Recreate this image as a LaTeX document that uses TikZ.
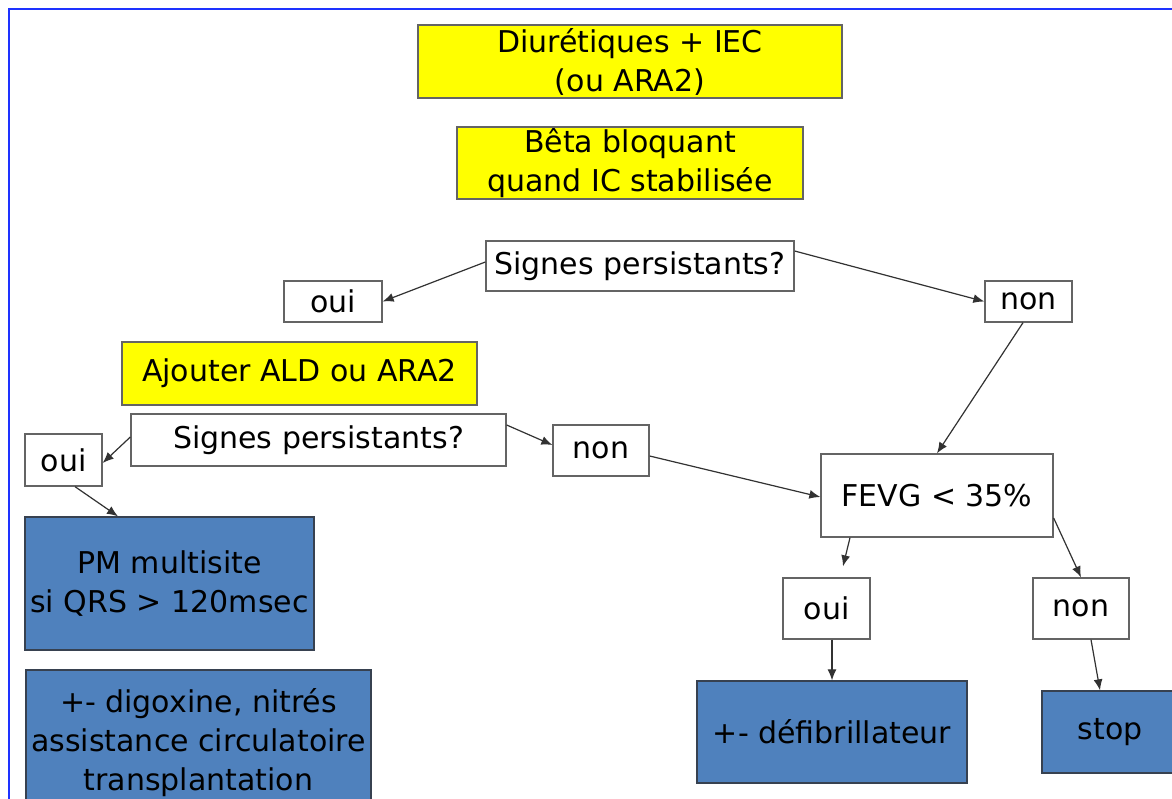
\documentclass[tikz,border=0pt]{standalone}
\usepackage{fontspec}
\setmainfont{DejaVu Sans}
\usetikzlibrary{arrows.meta}

\definecolor{jaune}{RGB}{255,255,0}
\definecolor{bleuboite}{RGB}{79,129,189}
\definecolor{bordgris}{RGB}{100,100,100}
\definecolor{bordbleu}{RGB}{55,65,80}
\definecolor{cadre}{RGB}{30,50,255}
\definecolor{fleche}{RGB}{50,50,50}

\begin{document}
\begin{tikzpicture}[x=1pt,y=-1pt,
  >={Latex[length=11pt,width=9pt]},
  every node/.style={align=center,inner sep=0pt,font=\fontsize{30}{39}\selectfont},
  jaunebox/.style={draw=bordgris,line width=1.6pt,fill=jaune},
  blancbox/.style={draw=bordgris,line width=1.3pt,fill=white},
  bleubox/.style={draw=bordbleu,line width=1.3pt,fill=bleuboite},
  lien/.style={->,draw=fleche,line width=1.2pt}]
\useasboundingbox (0,0) rectangle (1172,799);
\clip (0,0) rectangle (1172,799);
\fill[white] (0,0) rectangle (1172,799);
\draw[cadre,line width=2.6pt] (9,810) -- (9,9) -- (1180,9);

% traitement de base
\node[jaunebox,minimum width=424pt,minimum height=73pt] (diu) at (630,61.5) {Diurétiques + IEC\\(ou ARA2)};
\node[jaunebox,minimum width=346pt,minimum height=72pt] (beta) at (630,163) {Bêta bloquant\\quand IC stabilisée};

% premiere question
\node[blancbox,minimum width=308pt,minimum height=50pt] (sig1) at (640,266) {Signes persistants?};
\node[blancbox,minimum width=98pt,minimum height=41pt] (oui1) at (333,301.5) {oui};
\node[blancbox,minimum width=87pt,minimum height=41pt] (non1) at (1028.5,301.5) {non};
\node[jaunebox,minimum width=355pt,minimum height=63pt] (ajout) at (299.5,373.5) {Ajouter ALD ou ARA2};

% deuxieme question
\node[blancbox,minimum width=375pt,minimum height=52pt] (sig2) at (318.5,440) {Signes persistants?};
\node[blancbox,minimum width=77pt,minimum height=52pt] (oui2) at (63.5,460) {oui};
\node[blancbox,minimum width=96pt,minimum height=51pt] (non2) at (601,450.5) {non};
\node[bleubox,minimum width=289pt,minimum height=133pt] (pm) at (169.5,583.5) {PM multisite\\si QRS > 120msec};
\node[bleubox,minimum width=345pt,minimum height=145pt] (digox) at (198.5,742.5) {+- digoxine, nitrés\\assistance circulatoire\\transplantation};

% FEVG
\node[blancbox,minimum width=232pt,minimum height=83pt] (fevg) at (937,495.5) {FEVG < 35\%};
\node[blancbox,minimum width=87pt,minimum height=61pt] (oui3) at (826.5,608.5) {oui};
\node[blancbox,minimum width=96pt,minimum height=61pt] (non3) at (1081,608.5) {non};
\node[bleubox,minimum width=270pt,minimum height=102pt] (defib) at (832,732) {+- défibrillateur};
\node[bleubox,minimum width=136pt,minimum height=82pt] (stop) at (1110,732) {stop};

\draw[lien] ([yshift=4pt]sig1.west) -- (oui1.east);
\draw[lien] ([yshift=15pt]sig1.east) -- (non1.west);
\draw[lien] ([xshift=-5.5pt]non1.south) -- (fevg.north);
\draw[lien] ([yshift=3pt]sig2.west) -- ([yshift=-3pt]oui2.east);
\draw[lien] ([yshift=15pt]sig2.east) -- ([yshift=5.5pt]non2.west);
\draw[lien] ([xshift=11.5pt]oui2.south) -- ([xshift=-51.5pt]pm.north);
\draw[lien] ([yshift=-5.5pt]non2.east) -- ([yshift=-1.5pt]fevg.west);
\draw[lien] ([xshift=-87pt]fevg.south) -- ([xshift=16.5pt,yshift=11pt]oui3.north);
\draw[lien] ([yshift=-22.5pt]fevg.east) -- (non3.north);
\draw[lien] (oui3.south -| defib.north) -- (defib.north);
\draw[lien] ([xshift=10pt]non3.south) -- ([xshift=-10pt]stop.north);

\end{tikzpicture}
\end{document}
